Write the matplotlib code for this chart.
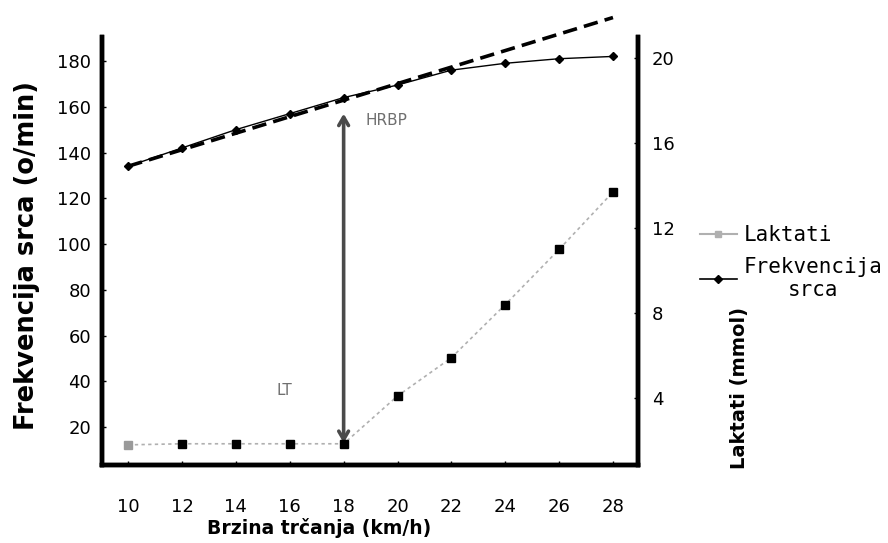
import matplotlib.pyplot as plt

# --- podaci ---
brzina = [10, 12, 14, 16, 18, 20, 22, 24, 26, 28]
frekvencija = [134, 142, 150, 157, 164, 169.5, 176, 179, 181, 182]
laktati = [1.8, 1.85, 1.85, 1.85, 1.85, 4.1, 5.9, 8.4, 11.0, 13.7]
trend_x = [10, 28]
trend_y = [134, 199]

hr_ticks = [20, 40, 60, 80, 100, 120, 140, 160, 180]
lak_ticks = [4, 8, 12, 16, 20]

fig = plt.figure(figsize=(8.88, 5.43), dpi=100)
ax = fig.add_axes([0.1149, 0.1436, 0.6036, 0.7883])
ax2 = ax.twinx()

# frekvencija srca
ax.plot(trend_x, trend_y, ls=(0, (4, 2)), color='black', lw=2.6, clip_on=False, zorder=3)
ax.plot(brzina, frekvencija, color='black', lw=1, marker='D', ms=4, zorder=4)

# laktati
ax2.plot(brzina, laktati, color='#b0b0b0', lw=1.2, ls=(0, (2, 2)), zorder=2)
ax2.plot(brzina[1:], laktati[1:], ls='none', marker='s', ms=6, color='black', zorder=3)
ax2.plot(brzina[:1], laktati[:1], ls='none', marker='s', ms=6, color='#9a9a9a', zorder=3)

# HRBP / LT strelica
ax.annotate('', xy=(18, 157), xytext=(18, 13),
            arrowprops=dict(arrowstyle='<->,head_length=0.6,head_width=0.35',
                            lw=2.6, color='#4a4a4a', shrinkA=0, shrinkB=0))
ax.text(18.8, 154, 'HRBP', color='#6f6f6f', fontsize=11, va='center')
ax.text(15.5, 36, 'LT', color='#6f6f6f', fontsize=11, va='center')

ax.set_xlim(9.03, 28.93)
ax.set_ylim(3.4, 190.5)
ax2.set_ylim(0.85, 21.0)
ax.set_xticks(brzina)
ax.set_yticks(hr_ticks)
ax2.set_yticks(lak_ticks)

for a in (ax, ax2):
    a.spines['top'].set_visible(False)
    for s in ('left', 'bottom', 'right'):
        a.spines[s].set_linewidth(3.2)
    a.tick_params(labelsize=13, length=3, width=1, direction='in')
ax.tick_params(axis='x', pad=24)
ax.tick_params(axis='y', pad=8)
ax2.tick_params(axis='y', pad=10)

fig.text(0.03, 0.53, 'Frekvencija srca (o/min)', rotation=90, fontsize=18.5,
         fontweight='bold', ha='center', va='center')
fig.text(0.359, 0.01, 'Brzina trčanja (km/h)', fontsize=13.5, fontweight='bold',
         ha='center', va='bottom')
fig.text(0.833, 0.285, 'Laktati (mmol)', rotation=90, fontsize=14,
         fontweight='bold', ha='center', va='center')

# legenda
h1, = ax.plot([], [], color='#b0b0b0', lw=1.5, marker='s', ms=4)
h2, = ax.plot([], [], color='black', lw=1.2, marker='D', ms=4)
leg = fig.legend([h1, h2], ['Laktati', 'Frekvencija\nsrca'], loc='upper left',
                 bbox_to_anchor=(0.788, 0.585), frameon=False,
                 prop={'family': 'DejaVu Sans Mono', 'size': 15},
                 handlelength=1.8, handletextpad=0.3, labelspacing=0.55,
                 borderaxespad=0, borderpad=0)
leg.get_texts()[1].set_multialignment('center')

fig.savefig('out.png', dpi=100)
